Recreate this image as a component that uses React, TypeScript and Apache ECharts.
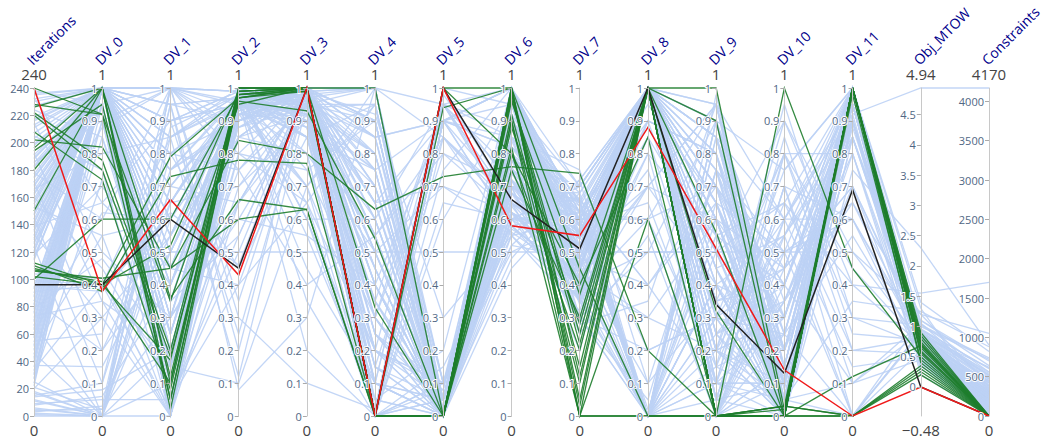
import React, { useEffect, useRef } from 'react';
import * as echarts from 'echarts';

// axis names, left to right
const dimensions = [
  'Iterations', 'DV_0', 'DV_1', 'DV_2', 'DV_3', 'DV_4', 'DV_5', 'DV_6',
  'DV_7', 'DV_8', 'DV_9', 'DV_10', 'DV_11', 'Obj_MTOW', 'Constraints',
];
const axisMin = [0, 0, 0, 0, 0, 0, 0, 0, 0, 0, 0, 0, 0, -0.48, 0];
const axisMax = [240, 1, 1, 1, 1, 1, 1, 1, 1, 1, 1, 1, 1, 4.94, 4170];
const maxLabels = ['240', '1', '1', '1', '1', '1', '1', '1', '1', '1', '1', '1', '1', '4.94', '4170'];
const minLabels = ['0', '0', '0', '0', '0', '0', '0', '0', '0', '0', '0', '0', '0', '\u22120.48', '0'];
const mtowTicks = [0, 0.5, 1, 1.5, 2, 2.5, 3, 3.5, 4, 4.5];
const constraintTicks = [0, 500, 1000, 1500, 2000, 2500, 3000, 3500, 4000];

// [iter, DV_0 .. DV_11, MTOW, constraints]
const otherRuns = [
  [0, 0.00, 0.50, 0.50, 0.50, 0.50, 0.50, 0.50, 0.50, 0.50, 0.50, 0.50, 0.50, 1.20, 380],
  [1, 0.00, 0.10, 0.85, 0.92, 0.10, 0.05, 0.80, 0.50, 1.00, 0.65, 0.10, 1.00, 0.60, 240],
  [2, 0.00, 0.85, 0.12, 0.95, 0.30, 0.05, 0.62, 0.45, 0.98, 0.20, 0.10, 0.88, 0.95, 520],
  [3, 0.03, 0.95, 0.97, 0.99, 1.00, 0.00, 0.72, 0.38, 0.00, 0.05, 0.35, 0.90, 0.75, 180],
  [4, 0.02, 0.30, 0.92, 0.70, 0.95, 0.10, 0.55, 0.60, 0.00, 0.75, 0.25, 1.00, 0.80, 260],
  [5, 0.00, 0.00, 0.65, 1.00, 0.00, 1.00, 0.95, 0.65, 1.00, 0.45, 0.05, 0.10, 1.05, 430],
  [6, 0.00, 1.00, 0.96, 0.20, 0.00, 0.90, 1.00, 0.35, 0.70, 0.40, 0.05, 0.00, 1.10, 700],
  [8, 0.06, 0.40, 0.99, 0.90, 0.60, 0.02, 0.60, 0.55, 1.00, 0.90, 0.75, 1.00, 0.50, 120],
  [9, 0.05, 0.05, 0.40, 0.98, 0.75, 0.02, 0.48, 0.72, 1.00, 0.10, 0.60, 0.95, 0.65, 310],
  [11, 0.00, 1.00, 0.80, 0.65, 0.20, 0.08, 1.00, 0.30, 0.20, 0.30, 0.00, 1.00, 0.85, 620],
  [12, 0.00, 0.65, 0.99, 0.88, 0.10, 0.00, 0.70, 0.28, 0.35, 0.95, 0.15, 1.00, 1.30, 140],
  [14, 0.08, 0.20, 0.94, 1.00, 0.85, 0.90, 0.66, 0.48, 1.00, 0.00, 0.50, 0.60, 0.45, 60],
  [15, 0.10, 0.95, 0.08, 0.30, 1.00, 0.85, 0.62, 0.50, 1.00, 0.00, 0.80, 0.20, 0.55, 450],
  [17, 0.00, 0.60, 0.98, 0.97, 0.00, 0.00, 0.88, 0.62, 0.60, 0.70, 0.20, 1.00, 0.70, 200],
  [18, 0.00, 0.20, 0.75, 1.00, 0.40, 0.00, 0.95, 0.65, 0.02, 0.55, 0.00, 0.75, 2.30, 900],
  [20, 0.30, 0.00, 0.97, 0.92, 0.00, 0.15, 0.58, 0.40, 0.90, 0.30, 0.45, 1.00, 0.40, 80],
  [21, 0.02, 0.80, 0.90, 1.00, 0.70, 0.05, 0.75, 0.52, 1.00, 0.15, 0.05, 0.95, 0.55, 330],
  [22, 1.00, 0.45, 0.60, 0.95, 0.85, 0.05, 0.80, 0.55, 1.00, 0.85, 0.10, 0.98, 0.70, 220],
  [24, 0.95, 0.00, 0.99, 0.85, 0.15, 0.00, 1.00, 0.44, 0.00, 0.50, 0.65, 1.00, 0.48, 150],
  [25, 0.00, 1.00, 0.30, 0.10, 0.02, 1.00, 0.65, 0.30, 0.00, 0.20, 0.90, 0.40, 1.55, 1700],
  [27, 1.00, 0.70, 0.95, 0.99, 0.45, 0.00, 0.70, 0.60, 1.00, 0.80, 0.00, 1.00, 0.62, 270],
  [28, 0.72, 0.10, 0.98, 1.00, 0.55, 0.00, 1.00, 0.62, 0.95, 0.65, 0.02, 1.00, 0.35, 60],
  [30, 1.00, 0.25, 0.88, 0.94, 0.95, 0.10, 0.85, 0.35, 1.00, 0.30, 0.25, 0.00, 0.92, 480],
  [31, 1.00, 0.80, 0.45, 0.85, 0.20, 0.10, 0.52, 0.48, 0.40, 0.10, 0.30, 0.85, 0.90, 340],
  [33, 0.90, 1.00, 0.99, 1.00, 0.00, 0.95, 0.60, 0.70, 1.00, 0.60, 0.10, 1.00, 0.58, 120],
  [34, 0.40, 0.02, 0.90, 0.97, 1.00, 0.00, 0.70, 0.20, 1.00, 0.45, 0.55, 0.00, 0.60, 480],
  [36, 1.00, 0.50, 0.92, 0.90, 0.30, 0.00, 0.95, 0.58, 0.00, 0.90, 0.00, 1.00, 0.75, 300],
  [37, 0.15, 0.55, 0.99, 0.60, 0.00, 0.95, 0.75, 0.58, 0.00, 0.98, 0.05, 1.00, 1.05, 560],
  [39, 1.00, 0.15, 0.97, 1.00, 0.65, 0.05, 0.68, 0.46, 1.00, 0.35, 0.80, 0.80, 0.50, 90],
  [40, 1.00, 0.95, 0.20, 1.00, 0.65, 0.00, 0.45, 0.68, 1.00, 0.30, 0.20, 0.92, 0.50, 150],
  [42, 1.00, 0.00, 0.94, 0.80, 0.00, 0.00, 0.90, 0.40, 1.00, 0.75, 0.15, 1.00, 0.68, 230],
  [43, 0.85, 0.25, 0.95, 0.45, 0.10, 0.05, 1.00, 0.40, 0.80, 0.05, 0.70, 0.60, 0.75, 290],
  [45, 1.00, 0.90, 0.99, 0.97, 0.85, 0.90, 0.58, 0.62, 0.00, 0.10, 0.05, 1.00, 0.45, 160],
  [46, 0.00, 0.70, 0.65, 0.99, 0.92, 0.30, 0.55, 0.32, 1.00, 0.70, 0.00, 1.00, 1.40, 820],
  [48, 1.00, 0.35, 0.96, 0.95, 0.20, 0.00, 0.78, 0.50, 1.00, 0.55, 0.40, 0.95, 0.60, 210],
  [49, 0.55, 0.00, 1.00, 0.93, 0.35, 0.00, 0.85, 0.75, 0.10, 0.35, 0.40, 0.10, 0.45, 110],
  [51, 1.00, 0.60, 0.90, 1.00, 1.00, 0.05, 0.95, 0.28, 1.00, 0.00, 0.00, 1.00, 0.80, 380],
  [52, 1.00, 0.40, 0.85, 0.80, 0.00, 0.65, 0.60, 0.45, 1.00, 0.90, 0.08, 1.00, 0.85, 400],
  [54, 1.00, 0.05, 0.99, 0.96, 0.50, 0.00, 0.70, 0.66, 0.40, 0.65, 0.20, 0.70, 0.52, 140],
  [55, 0.25, 1.00, 0.92, 1.00, 0.50, 0.00, 0.92, 0.25, 0.55, 0.00, 0.35, 0.80, 0.30, 30],
  [57, 1.00, 0.85, 0.95, 0.88, 0.10, 0.95, 1.00, 0.54, 1.00, 0.20, 0.55, 1.00, 0.66, 250],
  [58, 1.00, 0.15, 0.10, 0.70, 1.00, 0.10, 0.50, 0.60, 1.00, 0.50, 0.00, 0.95, 0.95, 610],
  [60, 1.00, 0.45, 0.98, 1.00, 0.75, 0.00, 0.62, 0.42, 0.00, 0.85, 0.05, 1.00, 0.40, 70],
  [61, 0.62, 0.60, 0.97, 0.98, 0.25, 0.00, 0.68, 0.52, 0.00, 0.15, 0.95, 0.30, 0.70, 250],
  [63, 1.00, 0.00, 0.90, 0.95, 0.00, 0.08, 0.90, 0.64, 1.00, 0.60, 0.30, 1.00, 0.82, 420],
  [64, 0.90, 0.05, 0.70, 0.90, 0.75, 0.90, 1.00, 0.38, 0.90, 0.80, 0.15, 1.00, 0.55, 180],
  [66, 1.00, 1.00, 0.99, 0.99, 0.40, 0.00, 0.74, 0.56, 1.00, 0.40, 0.00, 0.90, 0.48, 100],
  [67, 0.00, 0.88, 0.98, 0.35, 0.00, 0.00, 0.78, 0.70, 1.00, 0.25, 0.50, 0.65, 1.20, 1050],
  [69, 1.00, 0.20, 0.93, 1.00, 0.90, 0.02, 1.00, 0.45, 0.70, 0.95, 0.10, 1.00, 0.62, 260],
  [70, 1.00, 0.35, 0.55, 1.00, 0.40, 0.05, 0.57, 0.44, 0.30, 0.60, 0.05, 1.00, 0.40, 95],
  [72, 1.00, 0.65, 0.97, 0.92, 0.00, 0.90, 0.82, 0.60, 1.00, 0.05, 0.70, 0.00, 0.88, 520],
  [73, 0.35, 0.00, 0.95, 0.85, 0.95, 0.00, 0.90, 0.55, 1.00, 0.00, 0.25, 0.55, 0.62, 330],
  [75, 1.00, 0.10, 0.99, 1.00, 0.25, 0.00, 0.65, 0.50, 1.00, 0.70, 0.00, 1.00, 0.55, 160],
  [76, 1.00, 0.75, 0.88, 0.97, 0.15, 0.80, 0.62, 0.30, 0.00, 0.40, 0.00, 1.00, 0.88, 470],
  [78, 1.00, 0.90, 0.95, 0.90, 0.70, 0.05, 0.95, 0.70, 1.00, 0.25, 0.40, 0.95, 0.70, 290],
  [79, 0.48, 0.20, 0.99, 0.60, 0.60, 0.00, 1.00, 0.62, 1.00, 0.95, 0.60, 0.15, 0.50, 200],
  [81, 1.00, 0.00, 0.96, 1.00, 1.00, 0.00, 0.72, 0.40, 0.50, 0.50, 0.05, 1.00, 0.44, 80],
  [82, 1.00, 1.00, 0.35, 0.99, 0.00, 0.10, 0.72, 0.48, 0.75, 0.10, 0.10, 0.90, 1.00, 720],
  [84, 1.00, 0.40, 0.92, 0.95, 0.35, 0.95, 0.88, 0.56, 1.00, 0.85, 0.20, 1.00, 0.60, 180],
  [85, 0.20, 0.50, 0.92, 1.00, 0.80, 0.00, 0.55, 0.36, 1.00, 0.70, 0.30, 1.00, 0.35, 50],
  [87, 1.00, 0.05, 0.99, 0.85, 0.05, 0.00, 1.00, 0.62, 0.00, 0.30, 0.00, 0.85, 0.78, 340],
  [88, 0.95, 0.10, 0.80, 0.75, 0.30, 0.95, 0.85, 0.65, 0.20, 0.30, 0.80, 0.45, 0.72, 380],
  [90, 1.00, 0.80, 0.97, 1.00, 0.60, 0.02, 0.70, 0.45, 1.00, 0.60, 0.45, 1.00, 0.52, 130],
  [91, 0.40, 0.85, 1.00, 0.95, 1.00, 0.00, 0.66, 0.50, 1.00, 0.55, 0.00, 1.00, 0.58, 140],
  [93, 1.00, 0.25, 0.94, 0.97, 0.00, 0.00, 0.92, 0.30, 1.00, 0.10, 0.10, 0.95, 0.66, 240],
  [94, 1.00, 0.30, 0.60, 0.55, 0.05, 0.20, 1.00, 0.42, 0.00, 0.00, 0.45, 0.70, 0.95, 540],
  [95, 0.38, 0.62, 0.46, 1.00, 0.02, 0.98, 0.70, 0.55, 1.00, 0.40, 0.12, 0.90, 0.20, 20],
  [99, 0.40, 0.15, 0.98, 0.95, 0.80, 0.00, 0.75, 0.60, 1.00, 0.70, 0.00, 1.00, 0.48, 110],
  [104, 0.42, 0.00, 0.97, 0.88, 0.45, 0.00, 0.80, 0.28, 1.00, 0.85, 0.20, 1.00, 0.45, 90],
  [114, 1.00, 0.60, 0.99, 1.00, 0.15, 0.00, 0.62, 0.52, 1.00, 0.20, 0.00, 1.00, 0.58, 130],
  [115, 1.00, 0.95, 0.90, 0.99, 0.70, 0.05, 0.60, 0.60, 0.60, 0.15, 0.65, 0.20, 0.80, 310],
  [117, 0.95, 0.00, 0.95, 0.90, 0.00, 0.90, 0.95, 0.38, 1.00, 0.75, 0.05, 0.95, 0.62, 200],
  [118, 0.70, 0.40, 0.98, 0.70, 0.00, 0.60, 0.95, 0.46, 1.00, 0.60, 0.00, 1.00, 0.65, 160],
  [120, 1.00, 0.75, 0.97, 1.00, 0.45, 0.00, 0.78, 0.64, 0.00, 0.40, 0.30, 1.00, 0.70, 280],
  [121, 1.00, 0.05, 0.50, 1.00, 0.90, 0.00, 0.52, 0.72, 0.00, 0.90, 0.35, 0.85, 1.10, 640],
  [123, 1.00, 0.50, 0.99, 0.94, 0.25, 0.05, 1.00, 0.48, 1.00, 0.00, 0.15, 1.00, 0.50, 60],
  [124, 0.00, 0.70, 0.95, 0.92, 0.20, 0.10, 0.78, 0.38, 1.00, 0.25, 0.05, 1.00, 0.50, 70],
  [126, 1.00, 0.10, 0.93, 1.00, 1.00, 0.00, 0.70, 0.56, 1.00, 0.95, 0.00, 0.90, 0.82, 390],
  [127, 0.88, 1.00, 0.75, 0.40, 0.55, 0.00, 1.00, 0.50, 0.85, 0.50, 0.90, 0.50, 0.75, 420],
  [129, 1.00, 0.30, 0.98, 0.98, 0.60, 0.95, 0.65, 0.42, 1.00, 0.50, 0.05, 1.00, 0.46, 90],
  [130, 1.00, 0.20, 0.99, 0.98, 0.00, 0.85, 0.64, 0.66, 1.00, 0.05, 0.10, 0.95, 0.38, 120],
  [132, 1.00, 0.85, 0.96, 0.90, 0.10, 0.00, 0.92, 0.60, 0.00, 0.65, 0.50, 1.00, 0.64, 260],
  [133, 0.30, 0.55, 0.85, 1.00, 1.00, 0.00, 0.72, 0.30, 0.05, 0.75, 0.50, 0.00, 0.92, 500],
  [135, 1.00, 0.00, 0.99, 1.00, 0.70, 0.00, 0.85, 0.50, 1.00, 0.30, 0.00, 1.00, 0.56, 150],
  [136, 1.00, 0.00, 0.96, 0.85, 0.35, 0.05, 0.90, 0.58, 1.00, 0.35, 0.00, 1.00, 0.55, 240],
  [138, 1.00, 0.65, 0.95, 0.96, 0.00, 0.00, 0.60, 0.70, 1.00, 0.80, 0.25, 0.95, 0.72, 310],
  [139, 0.65, 0.90, 0.25, 0.97, 0.65, 0.70, 0.56, 0.42, 0.70, 0.95, 0.20, 0.80, 0.68, 360],
  [141, 1.00, 0.20, 0.98, 1.00, 0.50, 0.05, 0.98, 0.36, 0.00, 0.10, 0.00, 1.00, 0.50, 80],
  [142, 1.00, 0.35, 0.98, 0.60, 0.10, 0.00, 1.00, 0.70, 1.00, 0.20, 0.75, 1.00, 0.42, 100],
  [144, 1.00, 1.00, 0.99, 0.95, 0.90, 0.00, 0.68, 0.54, 1.00, 0.45, 0.10, 0.90, 0.60, 180],
  [145, 0.10, 0.75, 0.90, 1.00, 0.85, 0.00, 0.68, 0.35, 0.00, 0.60, 0.05, 0.35, 1.25, 880],
  [147, 1.00, 0.05, 0.97, 0.92, 0.00, 0.90, 0.85, 0.62, 1.00, 0.00, 0.60, 1.00, 0.70, 300],
  [148, 1.00, 0.15, 0.65, 0.92, 0.00, 0.90, 0.82, 0.52, 1.00, 0.00, 0.40, 0.98, 0.60, 210],
  [152, 1.00, 0.55, 0.96, 1.00, 0.35, 0.00, 0.74, 0.46, 1.00, 0.75, 0.00, 1.00, 0.52, 100],
  [153, 0.55, 0.60, 0.99, 0.80, 0.50, 0.00, 0.60, 0.62, 0.90, 0.80, 0.00, 1.00, 0.48, 130],
  [155, 1.00, 0.00, 0.94, 0.97, 0.80, 0.05, 1.00, 0.40, 0.30, 0.20, 0.30, 0.95, 0.85, 470],
  [157, 1.00, 1.00, 0.88, 1.00, 0.25, 0.10, 0.95, 0.45, 0.00, 0.30, 0.60, 0.60, 0.85, 450],
  [159, 1.00, 0.30, 0.99, 0.94, 0.00, 0.00, 0.70, 0.58, 1.00, 0.55, 0.05, 1.00, 0.58, 140],
  [160, 0.45, 0.10, 0.95, 0.95, 0.95, 0.00, 0.75, 0.25, 1.00, 0.65, 0.15, 1.00, 0.52, 60],
  [162, 1.00, 0.70, 0.97, 1.00, 0.55, 0.85, 0.66, 0.52, 1.00, 0.05, 0.00, 0.85, 0.66, 230],
  [163, 1.00, 0.45, 0.40, 0.65, 0.00, 0.75, 1.00, 0.58, 0.65, 0.10, 0.85, 0.25, 0.78, 380],
  [165, 1.00, 0.10, 0.98, 0.96, 0.20, 0.00, 0.90, 0.66, 0.00, 0.90, 0.20, 1.00, 0.74, 290],
  [166, 0.80, 0.85, 0.98, 1.00, 0.60, 0.00, 0.58, 0.40, 1.00, 0.45, 0.00, 1.00, 0.44, 80],
  [168, 1.00, 0.50, 0.92, 0.99, 1.00, 0.00, 0.76, 0.44, 1.00, 0.35, 0.45, 1.00, 0.50, 120],
  [169, 1.00, 0.00, 0.92, 0.90, 0.15, 0.05, 0.88, 0.68, 0.00, 0.85, 0.30, 0.90, 0.96, 600],
  [171, 1.00, 0.90, 0.99, 0.97, 0.40, 0.90, 1.00, 0.56, 1.00, 0.65, 0.00, 1.00, 0.62, 190],
  [172, 0.20, 0.65, 0.70, 0.98, 1.00, 0.95, 0.65, 0.50, 1.00, 0.20, 0.05, 1.00, 0.58, 170],
  [174, 1.00, 0.20, 0.96, 1.00, 0.00, 0.00, 0.64, 0.38, 0.60, 0.00, 0.15, 0.95, 0.66, 250],
  [175, 1.00, 0.25, 0.99, 0.55, 0.40, 0.00, 0.92, 0.34, 0.80, 0.55, 0.65, 0.40, 0.70, 290],
  [177, 1.00, 0.65, 0.95, 0.93, 0.80, 0.05, 0.80, 0.62, 1.00, 0.90, 0.05, 1.00, 0.54, 110],
  [178, 0.60, 1.00, 0.85, 1.00, 0.00, 0.10, 0.70, 0.60, 1.00, 0.00, 0.10, 1.00, 0.40, 40],
  [182, 1.00, 0.00, 0.98, 0.99, 0.30, 0.00, 0.96, 0.48, 0.00, 0.40, 0.00, 0.90, 0.76, 360],
  [183, 1.00, 0.40, 0.95, 0.85, 0.75, 0.00, 1.00, 0.46, 0.10, 0.75, 0.45, 0.70, 0.88, 520],
  [185, 1.00, 0.80, 0.97, 1.00, 0.10, 0.95, 0.72, 0.54, 1.00, 0.15, 0.25, 1.00, 0.60, 200],
  [186, 0.90, 0.05, 0.55, 1.00, 0.30, 0.85, 0.55, 0.72, 1.00, 0.35, 0.00, 1.00, 0.50, 110],
  [188, 1.00, 0.35, 0.99, 0.95, 0.65, 0.00, 0.84, 0.40, 1.00, 0.60, 0.00, 1.00, 0.46, 90],
  [189, 1.00, 0.75, 0.98, 0.75, 0.90, 0.00, 0.80, 0.30, 0.50, 0.90, 0.25, 0.95, 0.65, 260],
  [191, 1.00, 0.10, 0.95, 1.00, 0.00, 0.05, 1.00, 0.60, 1.00, 0.00, 0.55, 0.90, 0.72, 300],
  [192, 0.35, 0.20, 0.90, 0.99, 0.05, 0.00, 0.95, 0.55, 1.00, 0.10, 0.80, 0.30, 1.02, 740],
  [198, 1.00, 0.95, 0.97, 0.98, 0.40, 0.00, 0.66, 0.46, 1.00, 0.80, 0.10, 1.00, 0.52, 120],
  [199, 1.00, 0.55, 0.99, 0.95, 0.50, 0.70, 0.62, 0.40, 1.00, 0.60, 0.05, 1.00, 0.46, 90],
  [203, 1.00, 0.25, 0.94, 1.00, 0.90, 0.00, 0.88, 0.58, 0.00, 0.25, 0.00, 1.00, 0.68, 270],
  [205, 0.75, 0.00, 0.80, 1.00, 1.00, 0.00, 0.75, 0.65, 0.00, 0.40, 0.55, 0.85, 0.72, 350],
  [207, 1.00, 0.60, 0.98, 0.96, 0.00, 0.90, 1.00, 0.40, 1.00, 0.50, 0.20, 0.95, 0.58, 160],
  [211, 1.00, 0.90, 0.95, 0.70, 0.20, 0.05, 1.00, 0.48, 0.90, 0.80, 0.00, 1.00, 0.54, 150],
  [213, 1.00, 0.05, 0.99, 1.00, 0.45, 0.00, 0.70, 0.54, 1.00, 0.00, 0.00, 1.00, 0.48, 70],
  [214, 0.50, 0.30, 0.65, 1.00, 0.65, 0.90, 0.58, 0.36, 1.00, 0.25, 0.35, 0.65, 0.80, 430],
  [216, 1.00, 0.45, 0.96, 0.92, 0.75, 0.00, 0.82, 0.66, 0.40, 0.70, 0.40, 1.00, 0.64, 240],
  [217, 1.00, 0.65, 0.99, 0.90, 0.00, 0.00, 0.85, 0.60, 0.60, 0.95, 0.15, 1.00, 0.42, 70],
  [219, 1.00, 0.15, 0.97, 1.00, 0.20, 0.95, 0.62, 0.50, 1.00, 0.40, 0.00, 0.95, 0.56, 130],
  [224, 0.85, 0.15, 0.90, 1.00, 0.85, 0.10, 0.65, 0.52, 1.00, 0.05, 0.70, 0.10, 0.90, 560],
  [227, 1.00, 0.85, 0.98, 0.97, 0.55, 0.00, 0.95, 0.44, 1.00, 0.85, 0.05, 1.00, 0.50, 100],
  [230, 1.00, 0.80, 0.75, 0.95, 0.30, 0.00, 0.95, 0.42, 0.00, 0.55, 0.05, 1.00, 0.60, 190],
  [232, 1.00, 0.30, 0.99, 1.00, 0.00, 0.05, 0.78, 0.60, 1.00, 0.20, 0.30, 0.90, 0.70, 260],
  [233, 0.65, 0.45, 0.98, 0.85, 0.55, 0.80, 0.70, 0.68, 1.00, 0.70, 0.40, 0.90, 0.74, 320],
  [235, 1.00, 0.55, 0.96, 0.98, 0.90, 0.00, 1.00, 0.52, 0.70, 0.60, 0.00, 1.00, 0.46, 90],
  [236, 1.00, 0.05, 0.85, 1.00, 0.10, 0.00, 0.60, 0.35, 0.85, 0.20, 0.00, 1.00, 0.50, 100],
  [238, 0.95, 1.00, 0.95, 0.65, 0.95, 0.05, 1.00, 0.58, 1.00, 0.85, 0.60, 0.92, 4.94, 4170],
];

// feasible designs (zero constraint violation)
const feasibleRuns = [
  [240, 0.92, 0.35, 0.95, 1.00, 0.00, 0.00, 1.00, 0.00, 0.00, 0.00, 0.03, 0.00, 0.25, 0],
  [228, 0.92, 0.05, 0.97, 1.00, 0.00, 0.00, 0.98, 0.25, 1.00, 0.00, 0.00, 1.00, 0.70, 0],
  [226, 1.00, 0.10, 1.00, 1.00, 1.00, 0.00, 0.90, 0.10, 1.00, 1.00, 0.02, 1.00, 0.55, 0],
  [222, 0.78, 0.20, 0.99, 1.00, 0.00, 0.00, 0.80, 0.40, 0.85, 0.00, 0.00, 1.00, 0.80, 0],
  [220, 0.75, 0.18, 0.96, 0.93, 0.54, 0.00, 1.00, 0.05, 1.00, 0.90, 0.00, 1.00, 0.65, 0],
  [208, 0.72, 0.08, 1.00, 1.00, 0.00, 1.00, 1.00, 0.00, 0.60, 0.00, 0.00, 0.98, 0.45, 0],
  [202, 0.82, 0.45, 0.84, 0.80, 0.63, 0.73, 0.76, 0.74, 0.20, 0.00, 0.00, 0.00, 0.35, 0],
  [196, 1.00, 0.02, 0.98, 1.00, 0.00, 0.00, 0.92, 0.15, 1.00, 0.56, 0.00, 1.00, 0.60, 0],
  [194, 0.95, 0.12, 0.97, 0.99, 0.00, 0.00, 0.88, 0.28, 1.00, 0.00, 1.00, 0.45, 0.50, 0],
  [180, 1.00, 0.05, 0.99, 1.00, 0.33, 0.00, 1.00, 0.12, 1.00, 0.00, 0.02, 1.00, 0.75, 0],
  [150, 1.00, 0.36, 0.66, 0.63, 0.00, 0.00, 0.96, 0.37, 1.00, 0.00, 0.00, 1.00, 0.58, 0],
  [112, 0.40, 0.79, 0.97, 1.00, 0.00, 1.00, 0.80, 0.20, 1.00, 0.00, 0.00, 0.12, 0.68, 0],
  [110, 0.38, 0.73, 0.78, 0.77, 0.00, 0.94, 1.00, 0.45, 0.00, 0.00, 0.03, 1.00, 0.40, 0],
  [108, 0.40, 0.17, 1.00, 1.00, 0.00, 0.00, 0.99, 0.03, 1.00, 0.00, 0.00, 1.00, 0.85, 0],
  [107, 0.41, 0.10, 0.98, 1.00, 0.00, 0.00, 0.82, 0.00, 0.00, 0.00, 0.03, 0.00, 0.20, 0],
  [106, 0.42, 0.45, 0.60, 0.63, 0.00, 0.00, 0.75, 0.30, 1.00, 0.00, 0.00, 1.00, 0.72, 0],
  [102, 0.40, 0.52, 0.99, 1.00, 0.00, 0.00, 0.90, 0.00, 1.00, 0.32, 0.00, 0.00, 0.30, 0],
  [100, 0.60, 0.60, 0.98, 0.99, 0.00, 0.00, 0.97, 0.22, 1.00, 0.00, 0.00, 1.00, 0.90, 0],
];

const referenceRun = [96, 0.40, 0.60, 0.45, 1.00, 0.00, 1.00, 0.66, 0.51, 1.00, 0.34, 0.13, 0.69, 0.00, 0];
const bestRun = [240, 0.38, 0.66, 0.43, 1.00, 0.00, 1.00, 0.58, 0.55, 0.88, 0.51, 0.14, 0.00, 0.00, 0];

const LEFT = 34;
const RIGHT = 55;
const TOP = 88;
const BOTTOM = 26;
const W = 1044;
const H = 442;

const App: React.FC = () => {
  const chartRef = useRef<HTMLDivElement>(null);

  useEffect(() => {
    document.body.style.margin = '0';
    if (!chartRef.current) return;
    const chart = echarts.init(chartRef.current, null, { renderer: 'svg' });

    const step = (W - LEFT - RIGHT) / (dimensions.length - 1);
    const font = '"Open Sans", "DejaVu Sans", sans-serif';

    const parallelAxis = dimensions.map((name, i) => {
      const axis: any = {
        dim: i,
        name,
        min: axisMin[i],
        max: axisMax[i],
        nameLocation: 'end',
        nameGap: 21,
        nameRotate: 45,
        nameTextStyle: {
          color: '#00008b',
          fontSize: 14,
          fontFamily: font,
          align: 'left',
          verticalAlign: 'bottom',
        },
        axisLine: { lineStyle: { color: '#c8c8c8', width: 1 } },
        // negative length / margin put ticks and labels on the left side
        axisTick: { show: true, length: -4, lineStyle: { color: '#aaa' } },
        axisLabel: {
          color: '#506784',
          fontSize: 11,
          fontFamily: font,
          align: 'right',
          margin: -5,
          textBorderColor: '#fff',
          textBorderWidth: 2,
          formatter: (v: number) => String(Math.round(v * 1000) / 1000),
        },
      };
      if (i === 0) axis.interval = 20;
      else if (i <= 12) axis.interval = 0.1;
      else {
        const ticks = i === 13 ? mtowTicks : constraintTicks;
        axis.axisLabel.customValues = ticks;
        axis.axisTick.customValues = ticks;
      }
      return axis;
    });

    const rangeTexts: any[] = [];
    dimensions.forEach((_, i) => {
      const x = LEFT + i * step;
      rangeTexts.push({
        type: 'text',
        x,
        y: TOP - 7,
        style: { text: maxLabels[i], fill: '#444', fontSize: 15, fontFamily: font, align: 'center', verticalAlign: 'bottom' },
      });
      rangeTexts.push({
        type: 'text',
        x,
        y: H - BOTTOM + 6,
        style: { text: minLabels[i], fill: '#444', fontSize: 15, fontFamily: font, align: 'center', verticalAlign: 'top' },
      });
    });

    chart.setOption({
      animation: false,
      parallel: {
        left: LEFT,
        right: RIGHT,
        top: TOP,
        bottom: BOTTOM,
        layout: 'horizontal',
        parallelAxisDefault: { type: 'value' },
      },
      parallelAxis,
      graphic: rangeTexts,
      series: [
        {
          type: 'parallel',
          name: 'other',
          data: otherRuns,
          lineStyle: { color: '#bcd1f5', width: 1.3, opacity: 0.9 },
          silent: true,
        },
        {
          type: 'parallel',
          name: 'feasible',
          data: feasibleRuns,
          lineStyle: { color: '#1e7d2c', width: 1.3, opacity: 0.9 },
          silent: true,
        },
        {
          type: 'parallel',
          name: 'reference',
          data: [referenceRun],
          lineStyle: { color: '#222', width: 1.5, opacity: 1 },
          silent: true,
        },
        {
          type: 'parallel',
          name: 'best',
          data: [bestRun],
          lineStyle: { color: '#f01a1a', width: 1.5, opacity: 1 },
          silent: true,
        },
      ],
    });

    return () => {
      chart.dispose();
    };
  }, []);

  return <div ref={chartRef} style={{ width: W, height: H }}></div>;
};

export default App;
